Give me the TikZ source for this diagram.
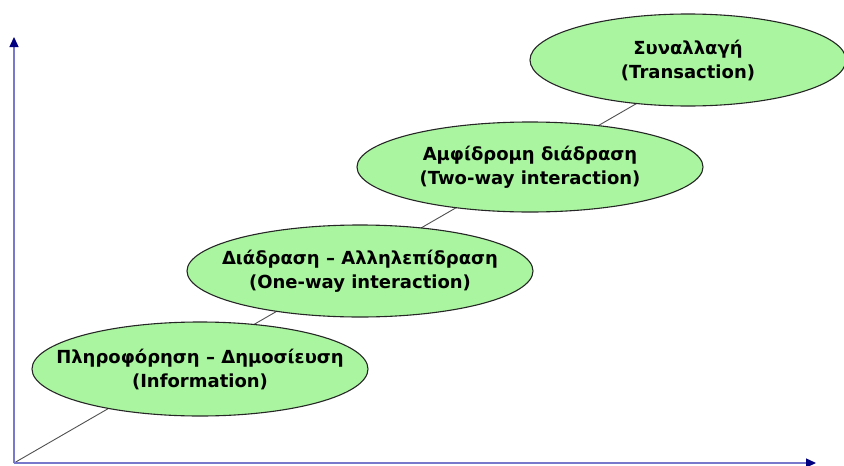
\documentclass[tikz,border=0pt]{standalone}
\usepackage{fontspec}
\setmainfont{DejaVu Sans}
\usetikzlibrary{shapes.geometric,arrows.meta}
\definecolor{ellfill}{RGB}{170,245,160}
\definecolor{axisline}{RGB}{120,120,205}
\definecolor{axistip}{RGB}{0,0,128}
\definecolor{diag}{RGB}{80,80,80}
\tikzset{
  stage/.style={ellipse, draw=black!85, line width=1.1pt, fill=ellfill, inner sep=0pt},
  stagetext/.style={font=\fontsize{18}{24}\selectfont\bfseries, align=center, text=black, inner sep=0pt},
  axisarrow/.style={draw=axisline, line width=1.3pt,
    -{Triangle[length=10pt,width=9pt,color=axistip]}},
  diagline/.style={draw=diag, line width=0.9pt}
}
\begin{document}
\begin{tikzpicture}[x=1pt,y=-1pt]
\useasboundingbox (0,0) rectangle (844,466);
\coordinate (O) at (14,463);
\coordinate (ytip) at (14,37);
\coordinate (xtip) at (816,463);
\coordinate (D) at (660,90);
\draw[diagline] (O) -- (D);
\node[stage, minimum width=336pt, minimum height=94pt,
  label={[stagetext]center:Πληροφόρηση – Δημοσίευση\\(Information)}] (s1) at (200,369) {};
\node[stage, minimum width=346pt, minimum height=92pt,
  label={[stagetext]center:Διάδραση – Αλληλεπίδραση\\(One-way interaction)}] (s2) at (360,271) {};
\node[stage, minimum width=346pt, minimum height=90pt,
  label={[stagetext]center:Αμφίδρομη διάδραση\\(Two-way interaction)}] (s3) at (530,167) {};
\node[stage, minimum width=316pt, minimum height=92pt,
  label={[stagetext]center:Συναλλαγή\\(Transaction)}] (s4) at (688,60) {};
\draw[axisarrow] (O) -- (ytip);
\draw[axisarrow] (O) -- (xtip);
\end{tikzpicture}
\end{document}
